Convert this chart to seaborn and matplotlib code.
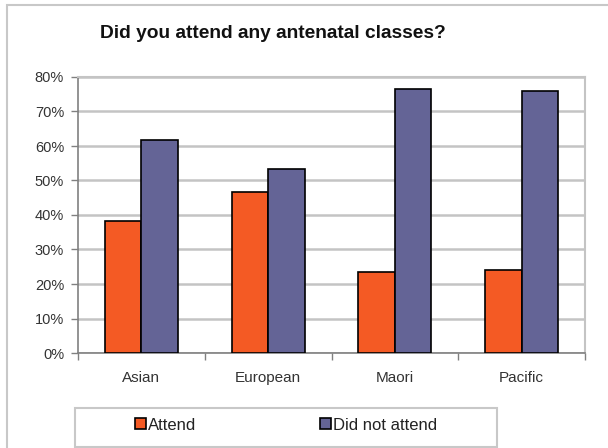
import matplotlib
matplotlib.use("Agg")
import matplotlib.pyplot as plt
import seaborn as sns
import pandas as pd
from matplotlib.patches import Rectangle
from matplotlib.ticker import PercentFormatter, FixedLocator

categories = ["Asian", "European", "Maori", "Pacific"]
attend = [38.2, 46.8, 23.6, 24.2]
did_not_attend = [61.8, 53.2, 76.4, 75.8]
series_names = ["Attend", "Did not attend"]
y_ticks = [0, 10, 20, 30, 40, 50, 60, 70, 80]

df = pd.DataFrame({
    "group": categories * 2,
    "response": [series_names[0]] * 4 + [series_names[1]] * 4,
    "pct": attend + did_not_attend,
})

sns.set_theme(style="white")
plt.rcParams["font.family"] = ["Liberation Sans", "DejaVu Sans"]

W, H = 608, 448
fig = plt.figure(figsize=(W / 100, H / 100), dpi=100)
ax = fig.add_axes([78 / W, 1 - 353 / H, (585 - 78) / W, (353 - 77) / H])

palette = {"Attend": "#F45A24", "Did not attend": "#646496"}
sns.barplot(data=df, x="group", y="pct", hue="response", palette=palette,
            width=0.575, edgecolor="black", linewidth=1.2, saturation=1,
            ax=ax, zorder=3)

ax.set_ylim(0, 80)
ax.set_xlim(-0.5, 3.5)
ax.yaxis.set_major_locator(FixedLocator(y_ticks))
ax.yaxis.set_major_formatter(PercentFormatter(decimals=0))
ax.grid(axis="y", color="#c4c4c4", linewidth=1.8, zorder=0)
ax.set_axisbelow(True)
ax.set_xlabel("")
ax.set_ylabel("")

for side in ["top", "right"]:
    ax.spines[side].set_color("#c4c4c4")
    ax.spines[side].set_linewidth(1.5)
for side in ["left", "bottom"]:
    ax.spines[side].set_color("#808080")
    ax.spines[side].set_linewidth(1.2)

ax.tick_params(axis="y", which="major", left=True, length=5, width=1,
               color="#808080", labelsize=10.5, pad=5, labelcolor="#333333")
ax.tick_params(axis="x", which="major", bottom=False, length=0,
               labelsize=11, pad=13, labelcolor="#333333")
ax.set_xticks([-0.5, 0.5, 1.5, 2.5, 3.5], minor=True)
ax.tick_params(axis="x", which="minor", bottom=True, length=5, width=1,
               color="#808080")

ax.get_legend().remove()

# legend box spanning below the plot, with one entry pinned per column
fig.patches.append(Rectangle((75 / W, 1 - 447 / H), (497 - 75) / W, 39 / H,
                             transform=fig.transFigure, facecolor="white",
                             edgecolor="#c8c8c8", linewidth=1.5))
entry_x = [135, 320]
for name, x in zip(series_names, entry_x):
    h = Rectangle((0, 0), 1, 1, facecolor=palette[name], edgecolor="black",
                  linewidth=1.2)
    fig.legend([h], [name], loc="center left",
               bbox_to_anchor=(x / W, 1 - 425 / H), frameon=False,
               fontsize=12, handlelength=0.65, handleheight=0.65,
               handletextpad=0.15, borderpad=0, borderaxespad=0,
               labelcolor="#222222")

fig.text(0.5 * (98 + 447) / W, 1 - 34 / H, "Did you attend any antenatal classes?",
         ha="center", va="center", fontsize=13.8, fontweight="bold",
         color="#111111")

fig.patches.append(Rectangle((7 / W, -0.02), 1.02, 1 - 5 / H + 0.02,
                             transform=fig.transFigure, fill=False,
                             edgecolor="#c8c8c8", linewidth=1.5))

fig.savefig("out.png", dpi=100)
